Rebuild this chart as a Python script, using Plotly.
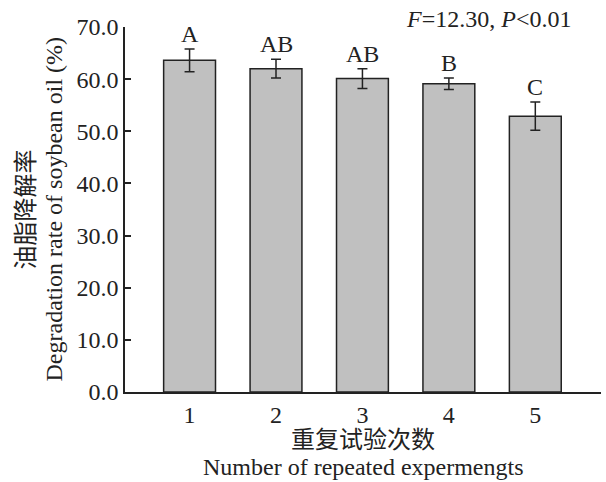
import plotly.graph_objects as go

categories = [1, 2, 3, 4, 5]
tick_labels = ["1", "2", "3", "4", "5"]
means = [63.6, 62.0, 60.1, 59.1, 52.9]
errors = [2.2, 1.8, 1.9, 1.1, 2.7]
letters = ["A", "AB", "AB", "B", "C"]
y_ticks = [0, 10, 20, 30, 40, 50, 60, 70]
y_tick_labels = ["0.0", "10.0", "20.0", "30.0", "40.0", "50.0", "60.0", "70.0"]
x_title_cn = "重复试验次数"
x_title_en = "Number of repeated expermengts"
y_title_cn = "油脂降解率"
y_title_en = "Degradation rate of soybean oil (%)"

FONT = "Liberation Serif, Times New Roman, Noto Sans CJK SC, serif"
FS = 24
INK = "#222222"

fig = go.Figure()
fig.add_trace(go.Bar(
    x=categories, y=means, width=0.6,
    marker=dict(color="#c0c0c0", line=dict(color=INK, width=1.5)),
    error_y=dict(type="data", array=errors, visible=True, color=INK,
                 thickness=1.5, width=5),
    showlegend=False,
))

for c, m, e, t in zip(categories, means, errors, letters):
    fig.add_annotation(x=c, y=m + e, text=t, showarrow=False, yanchor="bottom",
                       yshift=0, font=dict(family=FONT, size=FS, color=INK))

fig.add_annotation(xref="paper", yref="paper", x=0.942, y=1.022, xanchor="right",
                   yanchor="middle", showarrow=False,
                   text="<i>F</i>=12.30, <i>P</i>&lt;0.01",
                   font=dict(family=FONT, size=FS, color=INK))

# axis titles placed as annotations (pixel offsets from plot area)
fig.add_annotation(xref="paper", yref="paper", x=0.5, y=0, yanchor="middle",
                   yshift=-48, showarrow=False, text=x_title_cn,
                   font=dict(family=FONT, size=FS, color=INK))
fig.add_annotation(xref="paper", yref="paper", x=0.5, y=0, yanchor="middle",
                   yshift=-75, showarrow=False, text=x_title_en,
                   font=dict(family=FONT, size=FS, color=INK))
fig.add_annotation(xref="paper", yref="paper", x=0, y=0.5, xanchor="center",
                   xshift=-100, showarrow=False, text=y_title_cn, textangle=-90,
                   font=dict(family=FONT, size=FS, color=INK))
fig.add_annotation(xref="paper", yref="paper", x=0, y=0.5, xanchor="center",
                   xshift=-72, showarrow=False, text=y_title_en, textangle=-90,
                   font=dict(family=FONT, size=FS, color=INK))

fig.update_layout(
    width=606, height=482,
    margin=dict(l=125, r=5, t=27, b=90),
    plot_bgcolor="white", paper_bgcolor="white",
    font=dict(family=FONT, size=FS, color=INK),
)
fig.update_xaxes(
    range=[0.253, 5.76], tickvals=categories, ticktext=tick_labels,
    showline=True, linecolor=INK, linewidth=1.5, ticks="",
    showgrid=False, zeroline=False, automargin=False,
    tickfont=dict(family=FONT, size=FS),
)
fig.update_yaxes(
    range=[0, 70], tickvals=y_ticks, ticktext=y_tick_labels,
    showline=True, linecolor=INK, linewidth=1.5, ticks="inside",
    ticklen=6, tickcolor=INK, tickwidth=1.5,
    showgrid=False, zeroline=False, automargin=False,
    tickfont=dict(family=FONT, size=FS),
)

fig.write_html("out.html", config={"displayModeBar": False},
               post_script="document.body.style.margin='0px';document.body.style.overflow='hidden';")
